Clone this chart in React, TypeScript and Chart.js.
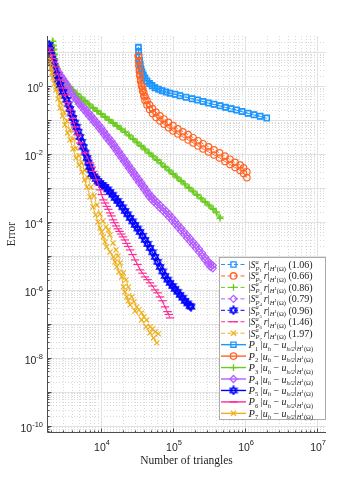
import React, { useEffect, useRef } from 'react';
import { Chart, registerables } from 'chart.js';

Chart.register(...registerables);

// ---------------- axis ranges & labels ----------------
const X_MIN = 1778;
const X_MAX = 1.33e7;
const Y_MIN = 6.6e-11;
const Y_MAX = 29.5;
const xLabelExps = [4, 5, 6, 7];
const yLabelExps = [-10, -8, -6, -4, -2, 0];
const xTitle = 'Number of triangles';
const yTitle = 'Error';

const rates = ['1.06', '0.66', '0.86', '0.79', '0.96', '1.46', '1.97'];
const colors = ['#1e96ff', '#ff6424', '#6acb1e', '#b45cff', '#0000ff', '#ff2a95', '#edb120'];
const markers = ['rect', 'circle', 'cross', 'rectRot', 'hexagram', 'line', 'crossRot'];
const markerRadius = [3.7, 3.2, 3.4, 3.5, 5, 4.2, 3.6];

// ---------------- data ----------------
// P1 (light blue squares)
const p1N = [33000, 33300, 33700, 34200, 35000, 35900, 37100, 38700, 40800, 43500, 47200, 51100, 56200, 62900, 70400, 80000, 90800, 106600, 125000, 151600, 183700, 219000, 261000, 311000, 371000, 450000, 536000, 640000, 762000, 908000, 1100000, 1330000, 1620000, 2000000];
const p1Err = [13.4, 10, 7.3, 5.4, 4.15, 3.16, 2.5, 2.04, 1.66, 1.36, 1.15, 1.0, 0.873, 0.789, 0.713, 0.653, 0.602, 0.558, 0.508, 0.459, 0.415, 0.38, 0.343, 0.31, 0.284, 0.258, 0.23, 0.211, 0.193, 0.174, 0.155, 0.14, 0.126, 0.112];
const p1Est = [14.1, 10.6, 7.7, 5.7, 4.4, 3.35, 2.65, 2.15, 1.75, 1.43, 1.2, 1.05, 0.91, 0.82, 0.74, 0.68, 0.625, 0.58, 0.528, 0.477, 0.43, 0.394, 0.356, 0.322, 0.295, 0.268, 0.239, 0.219, 0.2, 0.181, 0.161, 0.146, 0.131, 0.117];

// P2 (orange circles)
const p2N = [33000, 33300, 33700, 34200, 34700, 35500, 36500, 37800, 39300, 40800, 43500, 47200, 51900, 58100, 65900, 75000, 86400, 99900, 117000, 137000, 162000, 190000, 222000, 261000, 311000, 371000, 442000, 526000, 618000, 727000, 855000, 954000, 1060000];
const p2Err = [7.6, 5.4, 3.87, 2.76, 1.97, 1.40, 1.0, 0.713, 0.508, 0.375, 0.276, 0.204, 0.155, 0.119, 0.0935, 0.0748, 0.059, 0.0475, 0.0387, 0.0316, 0.0258, 0.0211, 0.0172, 0.014, 0.0115, 0.00935, 0.00763, 0.00601, 0.00491, 0.00401, 0.00327, 0.00267, 0.00201];
const p2Est = [7.8, 5.6, 4.1, 3.0, 2.2, 1.6, 1.17, 0.86, 0.64, 0.49, 0.37, 0.28, 0.215, 0.168, 0.133, 0.107, 0.085, 0.068, 0.055, 0.045, 0.037, 0.030, 0.0245, 0.020, 0.0163, 0.0133, 0.0108, 0.0086, 0.0070, 0.0057, 0.0047, 0.0039, 0.0030];

// P3 (green +)
const p3N = [2140, 2185, 2220, 2260, 2296, 2350, 2449, 2570, 2698, 2930, 3266, 3709, 4083, 4630, 5270, 5990, 6820, 7743, 8800, 10000, 11370, 12920, 14690, 16700, 18970, 21540, 24480, 27830, 31620, 35930, 40840, 46420, 52730, 59930, 68130, 77400, 87960, 100000, 113600, 129200, 146800, 166800, 189700, 215400, 244900, 278300, 316200, 359400, 400000, 449800];
const p3Err = [20.3, 15, 11.5, 8.2, 5.8, 4.1, 2.96, 2.25, 1.72, 1.40, 1.107, 0.873, 0.713, 0.562, 0.444, 0.35, 0.276, 0.218, 0.178, 0.145, 0.119, 0.0966, 0.079, 0.0646, 0.0528, 0.0432, 0.0338, 0.0268, 0.0211, 0.0166, 0.0131, 0.0104, 0.00818, 0.00646, 0.0051, 0.00401, 0.00316, 0.0025, 0.00197, 0.00155, 0.00122, 9.65e-4, 7.62e-4, 6.01e-4, 4.75e-4, 3.74e-4, 2.96e-4, 2.33e-4, 1.84e-4, 1.28e-4];
const p3Est = [21, 15.8, 12.2, 8.8, 6.2, 4.4, 3.2, 2.42, 1.85, 1.5, 1.19, 0.94, 0.77, 0.605, 0.478, 0.377, 0.297, 0.235, 0.192, 0.156, 0.128, 0.104, 0.085, 0.0696, 0.0569, 0.0465, 0.0364, 0.0289, 0.0227, 0.0179, 0.0141, 0.0112, 0.00881, 0.00696, 0.0055, 0.00432, 0.0034, 0.00269, 0.00212, 0.00167, 0.00131, 0.00104, 8.2e-4, 6.47e-4, 5.11e-4, 4.03e-4, 3.19e-4, 2.51e-4, 1.98e-4, 1.38e-4];

// P4 (purple diamonds)
const p4N = [1990, 2055, 2120, 2190, 2296, 2449, 2610, 2780, 2970, 3160, 3370, 3590, 3890, 4210, 4570, 4950, 5360, 5810, 6290, 6810, 7380, 7990, 8660, 9380, 10160, 11010, 11920, 12920, 13990, 15160, 16420, 17780, 19260, 20870, 22600, 24480, 26520, 28730, 31120, 33710, 36520, 39560, 42850, 46420, 50290, 54480, 59930, 65920, 72620, 79980, 88000, 96870, 106600, 117200, 129200, 142200, 156500, 172200, 189700, 208500, 229500, 252600, 278300, 306000, 330000, 356000];
const p4Err = [10, 7.62, 5.82, 4.75, 3.62, 2.76, 2.18, 1.72, 1.40, 1.145, 0.935, 0.762, 0.602, 0.475, 0.375, 0.296, 0.241, 0.197, 0.161, 0.131, 0.107, 0.0874, 0.0713, 0.0582, 0.0475, 0.0375, 0.0296, 0.0241, 0.0197, 0.0156, 0.0123, 0.00969, 0.00763, 0.00601, 0.00474, 0.00374, 0.00296, 0.00233, 0.00184, 0.00145, 0.00115, 9.03e-4, 7.13e-4, 5.63e-4, 4.6e-4, 3.88e-4, 3.16e-4, 2.58e-4, 2.11e-4, 1.72e-4, 1.4e-4, 1.11e-4, 8.74e-5, 6.89e-5, 5.44e-5, 4.29e-5, 3.38e-5, 2.67e-5, 2.11e-5, 1.66e-5, 1.31e-5, 9.93e-6, 7.62e-6, 5.82e-6, 4.75e-6, 4.3e-6];
const p4Est = [10.8, 8.3, 6.5, 5.3, 4.1, 3.15, 2.5, 2.0, 1.64, 1.35, 1.11, 0.91, 0.72, 0.57, 0.45, 0.357, 0.29, 0.238, 0.195, 0.159, 0.13, 0.106, 0.0866, 0.0707, 0.0577, 0.0456, 0.036, 0.0293, 0.024, 0.019, 0.015, 0.0118, 0.0093, 0.00733, 0.00578, 0.00456, 0.00361, 0.00284, 0.00224, 0.00177, 0.0014, 0.0011, 8.7e-4, 6.87e-4, 5.61e-4, 4.73e-4, 3.86e-4, 3.15e-4, 2.57e-4, 2.1e-4, 1.71e-4, 1.35e-4, 1.07e-4, 8.4e-5, 6.64e-5, 5.23e-5, 4.12e-5, 3.26e-5, 2.57e-5, 2.03e-5, 1.6e-5, 1.21e-5, 9.3e-6, 7.1e-6, 5.8e-6, 5.25e-6];

// P5 (blue hexagrams)
const p5N = [1897, 1959, 2024, 2086, 2154, 2260, 2371, 2529, 2698, 2970, 3340, 3709, 4083, 4570, 5108, 5710, 6400, 6920, 7490, 8530, 9685, 11370, 13340, 15650, 18360, 21540, 25290, 29660, 34830, 40840, 47970, 56230, 65920, 77400, 90780, 106600, 125000, 146800, 172200];
const p5Err = [16.1, 11.5, 8.16, 6.22, 4.75, 3.16, 2.11, 1.5, 1.07, 0.666, 0.388, 0.211, 0.1146, 0.0622, 0.0316, 0.0161, 0.00763, 0.00415, 0.00258, 0.00184, 0.0014, 0.00107, 7.62e-4, 5.08e-4, 3.39e-4, 2.11e-4, 1.31e-4, 8.16e-5, 5.08e-5, 2.96e-5, 1.72e-5, 9.35e-6, 4.75e-6, 2.58e-6, 1.61e-6, 1.07e-6, 7.13e-7, 4.75e-7, 3.39e-7];
const p5EstN = [1930, 1990, 2055, 2120, 2207, 2315, 2450, 2610, 2830, 3150, 3520, 3890, 4320, 4830, 5400, 6050, 6650, 7200, 8000, 9080, 10500, 12330, 14450, 16950, 19900, 23350, 27400, 32150, 37700, 44300, 51900, 60900, 71400, 83800, 98300, 115500, 135500, 159000, 178000];
const p5Est = [13.6, 9.7, 7.1, 5.4, 3.9, 2.6, 1.78, 1.26, 0.85, 0.51, 0.29, 0.155, 0.084, 0.045, 0.0225, 0.011, 0.0056, 0.0033, 0.0022, 0.0016, 0.00122, 9.1e-4, 6.3e-4, 4.15e-4, 2.7e-4, 1.68e-4, 1.04e-4, 6.4e-5, 3.9e-5, 2.25e-5, 1.28e-5, 6.7e-6, 3.5e-6, 2.0e-6, 1.3e-6, 8.8e-7, 5.9e-7, 4.0e-7, 3.2e-7];

// P6 (magenta bars)
const p6N = [1897, 1959, 2024, 2086, 2154, 2296, 2490, 2698, 2920, 3160, 3430, 3709, 4020, 4355, 4720, 5108, 5990, 7031, 7820, 8710, 9685, 10760, 12000, 13340, 14690, 16150, 18070, 20220, 22600, 25290, 29660, 34830, 40840, 47970, 56230, 65920, 77400, 90780];
const p6Err = [13.1, 10.35, 8.16, 6.44, 5.08, 3.62, 2.25, 1.5, 0.873, 0.544, 0.327, 0.197, 0.111, 0.0622, 0.0362, 0.0211, 0.0107, 0.00544, 0.00306, 0.00172, 8.74e-4, 4.44e-4, 2.86e-4, 1.84e-4, 1.15e-4, 7.62e-5, 5.26e-5, 3.62e-5, 2.33e-5, 1.5e-5, 7.62e-6, 3.88e-6, 2.41e-6, 1.61e-6, 1.0e-6, 6.22e-7, 3.16e-7, 1.5e-7];
const p6EstN = [1930, 1990, 2055, 2120, 2225, 2390, 2590, 2810, 3040, 3290, 3570, 3860, 4190, 4540, 4910, 5530, 6500, 7420, 8260, 9190, 10220, 11360, 12650, 14000, 15400, 17100, 19100, 21400, 23900, 27400, 32100, 37700, 44300, 51900, 60900, 71400, 83800, 87500];
const p6Est = [11.6, 9.2, 7.2, 5.7, 4.3, 2.9, 1.85, 1.15, 0.69, 0.43, 0.255, 0.148, 0.083, 0.047, 0.028, 0.0148, 0.0077, 0.0041, 0.0023, 0.00125, 6.4e-4, 3.6e-4, 2.35e-4, 1.5e-4, 9.5e-5, 6.3e-5, 4.4e-5, 2.95e-5, 1.9e-5, 1.1e-5, 5.6e-6, 3.1e-6, 2.0e-6, 1.3e-6, 8.2e-7, 4.8e-7, 2.3e-7, 1.9e-7];

// P7 (yellow x)
const p7N = [1897, 1959, 2024, 2086, 2154, 2260, 2371, 2529, 2698, 2920, 3160, 3430, 3709, 4083, 4497, 4950, 5440, 5900, 6400, 7031, 7743, 8390, 9080, 9685, 10230, 10760, 11360, 12000, 13340, 14830, 15640, 16500, 17780, 19390, 20420, 21540, 22740, 23930, 25290, 29660, 36520, 42170, 47970, 53580, 59430];
const p7Err = [6.66, 4.75, 3.38, 2.41, 1.72, 1.15, 0.762, 0.415, 0.225, 0.131, 0.0713, 0.0415, 0.0258, 0.014, 0.00763, 0.00475, 0.00296, 0.00172, 0.00107, 5.44e-4, 2.76e-4, 1.61e-4, 1e-4, 6.66e-5, 5.08e-5, 3.62e-5, 2.58e-5, 1.84e-5, 1.31e-5, 9.35e-6, 6.66e-6, 4.75e-6, 3.38e-6, 2.41e-6, 1.23e-6, 8.74e-7, 6.22e-7, 4.75e-7, 3.62e-7, 2.41e-7, 1.31e-7, 8.16e-8, 5.44e-8, 3.87e-8, 2.76e-8];
const p7EstN = [1897, 2024, 2154, 2296, 2449, 2610, 2780, 3062, 3370, 3709, 4083, 4497, 4950, 5440, 5990, 6590, 7260, 8000, 8800, 9685, 10660, 11730, 12630, 13340, 14690, 16150, 17230, 18360, 20420, 22230, 23930, 26670, 28730, 31300, 33710, 36730, 39560, 43130, 47970, 51830, 56230, 62500];
const p7Est = [8.16, 4.44, 2.58, 1.5, 0.873, 0.544, 0.316, 0.172, 0.0935, 0.0508, 0.0276, 0.015, 0.00874, 0.00544, 0.00338, 0.00197, 0.00107, 5.82e-4, 3.16e-4, 1.72e-4, 1.07e-4, 7.13e-5, 5.82e-5, 4.15e-5, 2.41e-5, 1.5e-5, 1e-5, 6.22e-6, 3.16e-6, 1.97e-6, 1.23e-6, 6.22e-7, 4.44e-7, 3.16e-7, 2.58e-7, 2.11e-7, 1.61e-7, 1.31e-7, 8.16e-8, 7.13e-8, 5.82e-8, 5.08e-8];

const estSeries = [
  { N: p1N, E: p1Est }, { N: p2N, E: p2Est }, { N: p3N, E: p3Est }, { N: p4N, E: p4Est },
  { N: p5EstN, E: p5Est }, { N: p6EstN, E: p6Est }, { N: p7EstN, E: p7Est },
];
const errSeries = [
  { N: p1N, E: p1Err }, { N: p2N, E: p2Err }, { N: p3N, E: p3Err }, { N: p4N, E: p4Err },
  { N: p5N, E: p5Err }, { N: p6N, E: p6Err }, { N: p7N, E: p7Err },
];

const SANS = '"Liberation Sans", Arial, Helvetica, sans-serif';
const SERIF = '"Liberation Serif", "Times New Roman", "DejaVu Serif", serif';

type Run = { t: string; s: number; i?: boolean; dy?: number; stay?: boolean };

function drawRuns(ctx: CanvasRenderingContext2D, x: number, y: number, runs: Run[]) {
  let cx = x;
  for (const r of runs) {
    ctx.font = `${r.i ? 'italic ' : ''}${r.s}px ${SERIF}`;
    ctx.fillText(r.t, cx, y + (r.dy || 0));
    if (!r.stay) cx += ctx.measureText(r.t).width;
  }
}

function estRuns(k: number, rate: string): Run[] {
  return [
    { t: '|', s: 10 },
    { t: 'S', s: 10, i: true },
    { t: 'a', s: 6.5, i: true, dy: -4.5, stay: true },
    { t: 'P', s: 6.5, i: true, dy: 2.5 },
    { t: String(k), s: 4.8, dy: 4 },
    { t: '\u2009r', s: 10, i: true },
    { t: '|', s: 10 },
    { t: 'H', s: 6.5, i: true, dy: 2.5 },
    { t: '1', s: 4.8, dy: -0.5 },
    { t: '(\u03A9)', s: 6.5, dy: 2.5 },
    { t: ' (' + rate + ')', s: 10 },
  ];
}

function errRuns(k: number): Run[] {
  return [
    { t: 'P', s: 10.5, i: true },
    { t: String(k), s: 6.5, dy: 2.5 },
    { t: ' |', s: 10 },
    { t: 'u', s: 10, i: true },
    { t: 'h', s: 6.5, i: true, dy: 2.5 },
    { t: ' \u2212 ', s: 10 },
    { t: 'u', s: 10, i: true },
    { t: 'h/2', s: 6.5, i: true, dy: 2.5 },
    { t: '|', s: 10 },
    { t: 'H', s: 6.5, i: true, dy: 2.5 },
    { t: '1', s: 4.8, dy: -0.5 },
    { t: '(\u03A9)', s: 6.5, dy: 2.5 },
  ];
}

function makeHexagram(color: string): HTMLCanvasElement {
  const c = document.createElement('canvas');
  c.width = 10;
  c.height = 10;
  const g = c.getContext('2d')!;
  g.strokeStyle = color;
  g.lineWidth = 1.3;
  const cx = 5, cy = 5, r = 4.1;
  for (const off of [-90, 90]) {
    g.beginPath();
    for (let j = 0; j < 3; j++) {
      const a = ((off + 120 * j) * Math.PI) / 180;
      const px = cx + r * Math.cos(a);
      const py = cy + r * Math.sin(a);
      if (j) g.lineTo(px, py); else g.moveTo(px, py);
    }
    g.closePath();
    g.stroke();
  }
  return c;
}

function drawMarker(ctx: CanvasRenderingContext2D, k: number, x: number, y: number, hex: HTMLCanvasElement) {
  const st = markers[k];
  const r = markerRadius[k];
  if (st === 'hexagram') {
    ctx.drawImage(hex, x - hex.width / 2, y - hex.height / 2);
    return;
  }
  ctx.save();
  ctx.setLineDash([]);
  ctx.strokeStyle = colors[k];
  ctx.lineWidth = 1.3;
  ctx.beginPath();
  const d = r * Math.SQRT1_2;
  switch (st) {
    case 'rect': ctx.rect(x - d, y - d, 2 * d, 2 * d); break;
    case 'circle': ctx.arc(x, y, r, 0, Math.PI * 2); break;
    case 'cross': ctx.moveTo(x - r, y); ctx.lineTo(x + r, y); ctx.moveTo(x, y - r); ctx.lineTo(x, y + r); break;
    case 'rectRot': ctx.moveTo(x - r, y); ctx.lineTo(x, y - r); ctx.lineTo(x + r, y); ctx.lineTo(x, y + r); ctx.closePath(); break;
    case 'line': ctx.moveTo(x - r, y); ctx.lineTo(x + r, y); break;
    case 'crossRot': ctx.moveTo(x - d, y - d); ctx.lineTo(x + d, y + d); ctx.moveTo(x + d, y - d); ctx.lineTo(x - d, y + d); break;
  }
  ctx.stroke();
  ctx.restore();
}

function gridValues(lo: number, hi: number) {
  const out: { v: number; major: boolean }[] = [];
  for (let d = Math.floor(Math.log10(lo)) - 1; d <= Math.ceil(Math.log10(hi)); d++) {
    for (let m = 1; m <= 9; m++) {
      const v = m * Math.pow(10, d);
      if (v >= lo && v <= hi) out.push({ v, major: m === 1 });
    }
  }
  return out;
}

export default function App() {
  const ref = useRef<HTMLCanvasElement>(null);

  useEffect(() => {
    const canvas = ref.current!;
    const hex = makeHexagram(colors[4]);

    const makeDs = (N: number[], E: number[], k: number, est: boolean, order: number) => ({
      data: N.map((n, i) => ({ x: n, y: E[i] })),
      borderColor: colors[k],
      backgroundColor: 'rgba(0,0,0,0)',
      borderWidth: 1,
      borderDash: est ? [4, 2] : [],
      pointStyle: markers[k] === 'hexagram' ? hex : markers[k],
      pointRadius: markerRadius[k],
      pointBorderWidth: 1.2,
      pointBorderColor: colors[k],
      pointBackgroundColor: 'rgba(0,0,0,0)',
      tension: 0,
      order,
    });

    const datasets: any[] = [];
    estSeries.forEach((s, k) => datasets.push(makeDs(s.N, s.E, k, true, 14 - k)));
    errSeries.forEach((s, k) => datasets.push(makeDs(s.N, s.E, k, false, 7 - k)));

    const gridPlugin = {
      id: 'mgrid',
      beforeDatasetsDraw(chart: any) {
        const { ctx, chartArea: a, scales } = chart;
        const xs = scales.x, ys = scales.y;
        ctx.save();
        ctx.lineWidth = 1;
        const xv = gridValues(X_MIN, X_MAX);
        const yv = gridValues(Y_MIN, Y_MAX);
        for (const pass of [false, true]) {
          ctx.strokeStyle = pass ? '#e2e2e2' : '#dadada';
          ctx.setLineDash(pass ? [] : [1, 2]);
          ctx.beginPath();
          for (const g of xv) {
            if (g.major !== pass) continue;
            const px = Math.round(xs.getPixelForValue(g.v)) + 0.5;
            ctx.moveTo(px, a.top);
            ctx.lineTo(px, a.bottom);
          }
          for (const g of yv) {
            if (g.major !== pass) continue;
            const py = Math.round(ys.getPixelForValue(g.v)) + 0.5;
            ctx.moveTo(a.left, py);
            ctx.lineTo(a.right, py);
          }
          ctx.stroke();
        }
        ctx.restore();
      },
      afterDatasetsDraw(chart: any) {
        const { ctx, chartArea: a, scales } = chart;
        const xs = scales.x, ys = scales.y;
        ctx.save();
        ctx.setLineDash([]);
        ctx.strokeStyle = '#4d4d4d';
        ctx.lineWidth = 1;
        const L = Math.round(a.left) + 0.5;
        const B = Math.round(a.bottom) + 0.5;
        ctx.beginPath();
        ctx.moveTo(L, a.top);
        ctx.lineTo(L, B);
        ctx.lineTo(a.right, B);
        for (const g of gridValues(X_MIN, X_MAX)) {
          const px = Math.round(xs.getPixelForValue(g.v)) + 0.5;
          ctx.moveTo(px, B);
          ctx.lineTo(px, B - (g.major ? 4 : 2));
        }
        for (const g of gridValues(Y_MIN, Y_MAX)) {
          const py = Math.round(ys.getPixelForValue(g.v)) + 0.5;
          ctx.moveTo(L, py);
          ctx.lineTo(L + (g.major ? 4 : 2), py);
        }
        ctx.stroke();
        ctx.restore();
      },
      afterDraw(chart: any) {
        const { ctx, chartArea: a, scales } = chart;
        const xs = scales.x, ys = scales.y;
        ctx.save();
        ctx.fillStyle = '#262626';
        ctx.textBaseline = 'alphabetic';
        // tick labels
        for (const e of yLabelExps) {
          const py = ys.getPixelForValue(Math.pow(10, e));
          ctx.font = `7.5px ${SANS}`;
          const es = String(e);
          const ew = ctx.measureText(es).width;
          ctx.textAlign = 'left';
          ctx.fillText(es, a.left - 4 - ew, py + 1);
          ctx.font = `10.5px ${SANS}`;
          ctx.textAlign = 'right';
          ctx.fillText('10', a.left - 4 - ew, py + 6.5);
        }
        for (const e of xLabelExps) {
          const px = xs.getPixelForValue(Math.pow(10, e));
          ctx.font = `10.5px ${SANS}`;
          const bw = ctx.measureText('10').width;
          ctx.font = `7.5px ${SANS}`;
          const es = String(e);
          const ew = ctx.measureText(es).width;
          const x0 = px + 1 - (bw + ew) / 2;
          ctx.textAlign = 'left';
          ctx.font = `10.5px ${SANS}`;
          ctx.fillText('10', x0, 450.5);
          ctx.font = `7.5px ${SANS}`;
          ctx.fillText(es, x0 + bw, 445);
        }
        // axis titles
        ctx.font = `11.5px ${SERIF}`;
        ctx.textAlign = 'center';
        ctx.fillText(xTitle, (a.left + a.right) / 2, 464);
        ctx.save();
        ctx.translate(14.5, (a.top + a.bottom) / 2);
        ctx.rotate(-Math.PI / 2);
        ctx.fillText(yTitle, 0, 0);
        ctx.restore();

        // legend
        const bx = 219.5, by = 257.5, bw = 106, bh = 162;
        ctx.fillStyle = '#ffffff';
        ctx.fillRect(bx, by, bw, bh);
        ctx.strokeStyle = '#ababab';
        ctx.lineWidth = 1;
        ctx.strokeRect(bx, by, bw, bh);
        ctx.textAlign = 'left';
        for (let i = 0; i < 14; i++) {
          const k = i % 7;
          const est = i < 7;
          const cy = 264.5 + i * 11.45;
          ctx.save();
          ctx.strokeStyle = colors[k];
          ctx.lineWidth = est ? 1 : 1.4;
          ctx.setLineDash(est ? [4, 2.5] : []);
          ctx.beginPath();
          ctx.moveTo(221, cy);
          ctx.lineTo(246, cy);
          ctx.stroke();
          ctx.restore();
          drawMarker(ctx, k, 233.5, cy, hex);
          ctx.fillStyle = '#1a1a1a';
          drawRuns(ctx, 248.5, cy + 3.5, est ? estRuns(k + 1, rates[k]) : errRuns(k + 1));
        }
        ctx.restore();
      },
    };

    const chart = new Chart(canvas, {
      type: 'line',
      data: { datasets },
      options: {
        responsive: false,
        maintainAspectRatio: false,
        devicePixelRatio: 1,
        animation: false,
        events: [],
        layout: { padding: { left: 0, right: 34, top: 36, bottom: 0 } },
        plugins: { legend: { display: false }, tooltip: { enabled: false } },
        scales: {
          x: {
            type: 'logarithmic',
            min: X_MIN,
            max: X_MAX,
            ticks: { display: false },
            grid: { display: false, drawTicks: false },
            border: { display: false },
            afterFit: (s: any) => { s.height = 54; },
          },
          y: {
            type: 'logarithmic',
            min: Y_MIN,
            max: Y_MAX,
            ticks: { display: false },
            grid: { display: false, drawTicks: false },
            border: { display: false },
            afterFit: (s: any) => { s.width = 47; },
          },
        },
      } as any,
      plugins: [gridPlugin],
    });
    return () => chart.destroy();
  }, []);

  return (
    <div style={{ position: 'absolute', left: 0, top: 0, width: 360, height: 486, background: '#fff' }}>
      <canvas ref={ref} width={360} height={486} style={{ display: 'block' }} />
    </div>
  );
}
